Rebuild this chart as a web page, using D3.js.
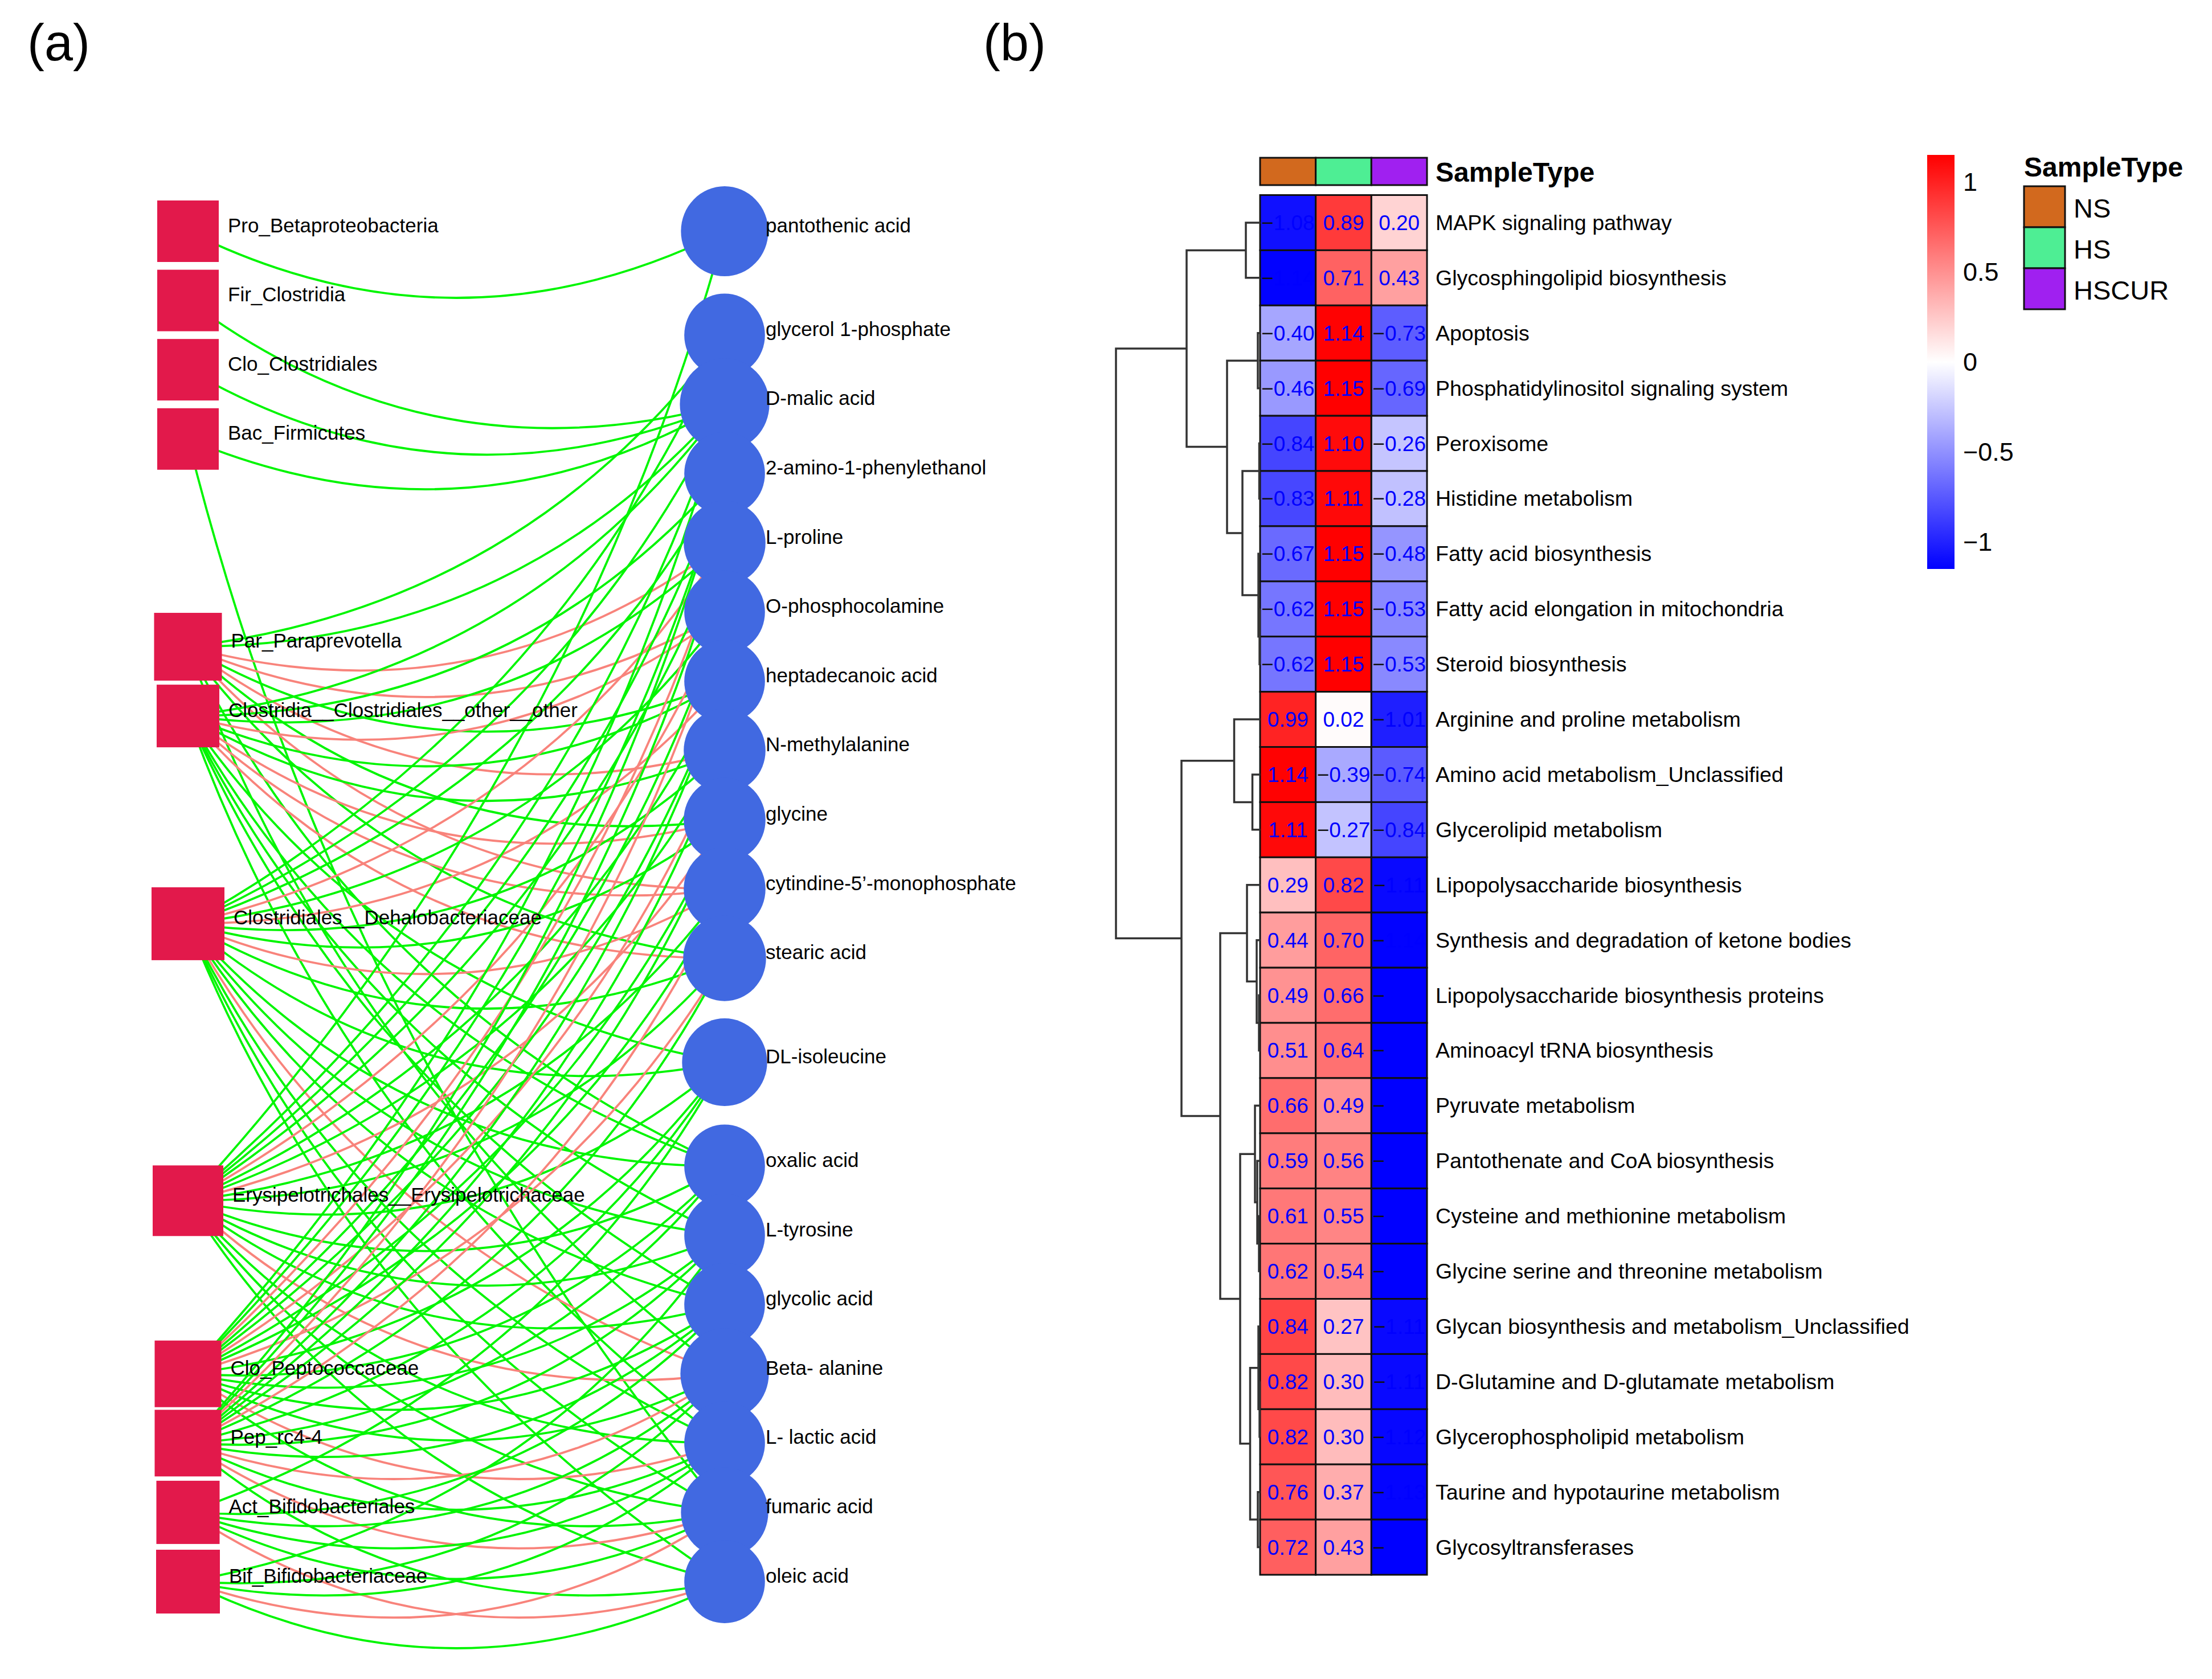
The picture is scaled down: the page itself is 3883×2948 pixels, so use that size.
<!DOCTYPE html>
<html><head><meta charset="utf-8">
<script src="https://cdn.jsdelivr.net/npm/d3@7"></script>
<style>body{margin:0;background:#fff}svg{display:block}</style>
</head><body>
<script>
// ---------------- DATA ----------------
// Panel (a) network
const leftNodes = ["Pro_Betaproteobacteria","Fir_Clostridia","Clo_Clostridiales","Bac_Firmicutes",
  "Par_Paraprevotella","Clostridia__Clostridiales__other__other","Clostridiales__Dehalobacteriaceae",
  "Erysipelotrichales__Erysipelotrichaceae","Clo_Peptococcaceae","Pep_rc4-4","Act_Bifidobacteriales","Bif_Bifidobacteriaceae"];
const leftSlots = [0,1,2,3,6,7,10,14,16.5,17.5,18.5,19.5];
const leftSizes = [108,108,108,108,119,110,128,124,117,117,111,112];
const rightNodes = ["pantothenic acid","glycerol 1-phosphate","D-malic acid","2-amino-1-phenylethanol","L-proline",
  "O-phosphocolamine","heptadecanoic acid","N-methylalanine","glycine","cytindine-5’-monophosphate","stearic acid",
  "DL-isoleucine","oxalic acid","L-tyrosine","glycolic acid","Beta- alanine","L- lactic acid","fumaric acid","oleic acid"];
const rightSlots = [0,1.5,2.5,3.5,4.5,5.5,6.5,7.5,8.5,9.5,10.5,12,13.5,14.5,15.5,16.5,17.5,18.5,19.5];
const rightSizes = [158,146,162,146,148,146,146,148,148,148,150,154,146,146,146,160,146,158,146];
// edges: [left index, right index, sign]
const edges = [
  [0,0,1],[1,2,1],[2,2,1],[3,2,1],[3,17,1],
  [4,1,1],[4,2,1],[4,4,-1],[4,5,-1],[4,6,1],[4,7,-1],[4,8,1],[4,9,-1],[4,10,1],[4,12,1],[4,15,1],
  [5,2,1],[5,3,1],[5,4,1],[5,5,-1],[5,6,1],[5,7,1],[5,8,-1],[5,9,-1],[5,10,-1],[5,11,1],[5,12,1],[5,13,1],[5,14,1],[5,16,1],
  [6,1,1],[6,2,1],[6,3,1],[6,4,-1],[6,5,1],[6,6,-1],[6,7,1],[6,8,1],[6,9,-1],[6,10,1],[6,11,1],[6,12,1],[6,13,1],[6,14,1],[6,15,-1],[6,16,1],[6,17,1],[6,18,1],
  [7,0,1],[7,2,1],[7,3,1],[7,4,1],[7,5,-1],[7,6,1],[7,7,1],[7,8,-1],[7,9,1],[7,10,1],[7,11,1],[7,12,1],[7,13,1],[7,14,1],[7,15,-1],[7,16,1],[7,17,1],[7,18,1],
  [8,2,1],[8,3,1],[8,4,-1],[8,5,1],[8,6,1],[8,7,-1],[8,8,1],[8,9,1],[8,10,-1],[8,11,1],[8,12,1],[8,13,1],[8,14,1],[8,15,1],[8,16,-1],[8,17,1],
  [9,3,1],[9,4,1],[9,5,-1],[9,6,1],[9,7,1],[9,8,1],[9,9,-1],[9,10,1],[9,11,1],[9,12,1],[9,13,1],[9,14,1],[9,15,-1],[9,16,1],[9,17,-1],[9,18,1],
  [10,11,1],[10,14,1],[10,15,1],[10,16,1],[10,17,1],[10,18,-1],
  [11,13,1],[11,15,1],[11,16,1],[11,17,-1],[11,18,1]
];

// Panel (b) heatmap
const rowLabels = ["MAPK signaling pathway","Glycosphingolipid biosynthesis","Apoptosis","Phosphatidylinositol signaling system",
  "Peroxisome","Histidine metabolism","Fatty acid biosynthesis","Fatty acid elongation in mitochondria","Steroid biosynthesis",
  "Arginine and proline metabolism","Amino acid metabolism_Unclassified","Glycerolipid metabolism","Lipopolysaccharide biosynthesis",
  "Synthesis and degradation of ketone bodies","Lipopolysaccharide biosynthesis proteins","Aminoacyl tRNA biosynthesis",
  "Pyruvate metabolism","Pantothenate and CoA biosynthesis","Cysteine and methionine metabolism","Glycine serine and threonine metabolism",
  "Glycan biosynthesis and metabolism_Unclassified","D-Glutamine and D-glutamate metabolism","Glycerophospholipid metabolism",
  "Taurine and hypotaurine metabolism","Glycosyltransferases"];
const sampleTypes = ["NS","HS","HSCUR"];
const sampleColors = ["#D2691E","#4EEE94","#A020F0"];
const valNS    = [-1.08,-1.14,-0.40,-0.46,-0.84,-0.83,-0.67,-0.62,-0.62,0.99,1.14,1.11,0.29,0.44,0.49,0.51,0.66,0.59,0.61,0.62,0.84,0.82,0.82,0.76,0.72];
const valHS    = [0.89,0.71,1.14,1.15,1.10,1.11,1.15,1.15,1.15,0.02,-0.39,-0.27,0.82,0.70,0.66,0.64,0.49,0.56,0.55,0.54,0.27,0.30,0.30,0.37,0.43];
const valHSCUR = [0.20,0.43,-0.73,-0.69,-0.26,-0.28,-0.48,-0.53,-0.53,-1.01,-0.74,-0.84,-1.11,-1.14,-1.15,-1.15,-1.15,-1.15,-1.15,-1.15,-1.11,-1.11,-1.12,-1.13,-1.15];
const colorbarTicks = [1, 0.5, 0, -0.5, -1];
// row dendrogram merges (hclust style): negative = leaf (1-based row), positive = earlier merge; [a, b, height]
const merges = [
  [-5,-6,0.015],[-8,-9,0.01],[-7,2,0.03],[-3,-4,0.04],[1,3,0.31],[4,5,0.58],[-1,-2,0.25],[7,6,1.29],
  [-11,-12,0.135],[-10,9,0.455],[-15,-16,0.02],[-14,11,0.06],[-13,12,0.23],[-19,-20,0.02],[-18,14,0.05],
  [-17,15,0.09],[-22,-23,0.01],[-21,17,0.03],[-24,-25,0.04],[18,19,0.175],[16,20,0.35],[13,21,0.70],[10,22,1.38],[8,23,2.53]
];

// ---------------- DRAW ----------------
const W = 3883, H = 2948;
const FONT = "'Liberation Sans', Arial, Helvetica, sans-serif";
const svg = d3.select("body").append("svg").attr("width", W).attr("height", H)
  .attr("font-family", FONT);
svg.append("rect").attr("width", W).attr("height", H).attr("fill", "#fff");

svg.append("text").attr("x", 48).attr("y", 106).attr("font-size", 90).text("(a)");
svg.append("text").attr("x", 1726).attr("y", 106).attr("font-size", 90).text("(b)");

// ---- network ----
const slotY = d3.scaleLinear().domain([0, 19.5]).range([406, 2777]);
const leftX = 330, rightX = 1272;
const gNet = svg.append("g");
const BEND = 234;
function edgePath(e) {
  const x1 = leftX, y1 = slotY(leftSlots[e[0]]);
  const x2 = rightX, y2 = slotY(rightSlots[e[1]]);
  const dx = x2 - x1, dy = y2 - y1, L = Math.hypot(dx, dy);
  const nx = -dy / L, ny = dx / L;
  const cx = (x1 + x2) / 2 + BEND * nx, cy = (y1 + y2) / 2 + BEND * ny;
  const p = d3.path();
  p.moveTo(x1, y1); p.quadraticCurveTo(cx, cy, x2, y2);
  return p.toString();
}
gNet.append("g").selectAll("path").data(edges).join("path")
  .attr("d", edgePath).attr("fill", "none")
  .attr("stroke", d => d[2] > 0 ? "#00F500" : "#F8837B")
  .attr("stroke-width", 3.8);

gNet.append("g").selectAll("rect").data(leftNodes).join("rect")
  .attr("x", (d, i) => leftX - leftSizes[i] / 2)
  .attr("y", (d, i) => slotY(leftSlots[i]) - leftSizes[i] / 2)
  .attr("width", (d, i) => leftSizes[i]).attr("height", (d, i) => leftSizes[i])
  .attr("fill", "#E2194B");
gNet.append("g").selectAll("ellipse").data(rightNodes).join("ellipse")
  .attr("cx", rightX).attr("cy", (d, i) => slotY(rightSlots[i]))
  .attr("rx", (d, i) => rightSizes[i] / 2 * 0.97).attr("ry", (d, i) => rightSizes[i] / 2)
  .attr("fill", "#4169E1");

gNet.append("g").selectAll("text").data(leftNodes).join("text")
  .attr("x", (d, i) => leftX + leftSizes[i] / 2 + 16)
  .attr("y", (d, i) => slotY(leftSlots[i]) - 11)
  .attr("dominant-baseline", "central").attr("font-size", 35).text(d => d);
gNet.append("g").selectAll("text").data(rightNodes).join("text")
  .attr("x", rightX + 72)
  .attr("y", (d, i) => slotY(rightSlots[i]) - 11)
  .attr("dominant-baseline", "central").attr("font-size", 35).text(d => d);

// ---- heatmap ----
const values = rowLabels.map((r, i) => [valNS[i], valHS[i], valHSCUR[i]]);
const flat = values.flat();
const ext = d3.extent(flat);
const color = d3.scaleLinear().domain([ext[0], (ext[0] + ext[1]) / 2, ext[1]])
  .range(["#0000FF", "#FFFFFF", "#FF0000"]).interpolate(d3.interpolateRgb).clamp(true);

const xCol = d3.scaleBand().domain(sampleTypes).range([2212, 2505]);
const yRow = d3.scaleBand().domain(d3.range(rowLabels.length)).range([342.5, 2765]);

const gH = svg.append("g");
// annotation bar
gH.append("g").selectAll("rect").data(sampleTypes).join("rect")
  .attr("x", d => xCol(d)).attr("y", 277).attr("width", xCol.bandwidth()).attr("height", 48)
  .attr("fill", (d, i) => sampleColors[i]).attr("stroke", "#111").attr("stroke-width", 3);
gH.append("text").attr("x", 2520).attr("y", 302).attr("dominant-baseline", "central")
  .attr("font-size", 48).attr("font-weight", "bold").text("SampleType");

const cells = [];
values.forEach((row, i) => row.forEach((v, j) => cells.push({i, j, v})));
gH.append("g").selectAll("rect").data(cells).join("rect")
  .attr("x", d => xCol(sampleTypes[d.j])).attr("y", d => yRow(d.i))
  .attr("width", xCol.bandwidth()).attr("height", yRow.bandwidth())
  .attr("fill", d => color(d.v)).attr("stroke", "#111").attr("stroke-width", 3);
const txt = gH.append("g").selectAll("text").data(cells).join("text")
  .attr("x", d => xCol(sampleTypes[d.j]) + xCol.bandwidth() / 2)
  .attr("y", d => yRow(d.i) + yRow.bandwidth() / 2)
  .attr("text-anchor", "middle").attr("dominant-baseline", "central")
  .attr("font-size", 37).attr("fill", "#0000FF");
txt.each(function(d) {
  const t = d3.select(this);
  if (d.v < 0) t.append("tspan").attr("fill", "#111").text("\u2212");
  t.append("tspan").text(Math.abs(d.v).toFixed(2));
});

gH.append("g").selectAll("text").data(rowLabels).join("text")
  .attr("x", 2520).attr("y", (d, i) => yRow(i) + yRow.bandwidth() / 2)
  .attr("dominant-baseline", "central").attr("font-size", 37.5).text(d => d);

// dendrogram
const xD = d3.scaleLinear().domain([0, 2.53]).range([2212, 1959]);
const nodeInfo = [];
function info(k) {
  if (k < 0) return {y: yRow(-k - 1) + yRow.bandwidth() / 2, h: 0};
  return nodeInfo[k - 1];
}
const dPath = d3.path();
merges.forEach(m => {
  const a = info(m[0]), b = info(m[1]);
  const xm = xD(m[2]);
  dPath.moveTo(xD(a.h), a.y); dPath.lineTo(xm, a.y); dPath.lineTo(xm, b.y); dPath.lineTo(xD(b.h), b.y);
  nodeInfo.push({y: (a.y + b.y) / 2, h: m[2]});
});
gH.append("path").attr("d", dPath.toString()).attr("fill", "none")
  .attr("stroke", "#333").attr("stroke-width", 3.5);

// color bar
const cbTop = 272, cbBot = 999, cbX = 3383, cbW = 48;
const yCb = d3.scaleLinear().domain(ext).range([cbBot, cbTop]);
const grad = svg.append("defs").append("linearGradient").attr("id", "cbg")
  .attr("x1", 0).attr("y1", 1).attr("x2", 0).attr("y2", 0);
d3.range(0, 1.0001, 0.05).forEach(t => {
  grad.append("stop").attr("offset", t).attr("stop-color", color(ext[0] + t * (ext[1] - ext[0])));
});
svg.append("rect").attr("x", cbX).attr("y", cbTop).attr("width", cbW).attr("height", cbBot - cbTop)
  .attr("fill", "url(#cbg)");
svg.append("g").selectAll("text").data(colorbarTicks).join("text")
  .attr("x", 3446).attr("y", d => yCb(d)).attr("dominant-baseline", "central")
  .attr("font-size", 45).text(d => d < 0 ? "\u2212" + Math.abs(d) : String(d));

// legend
svg.append("text").attr("x", 3553).attr("y", 293).attr("dominant-baseline", "central")
  .attr("font-size", 48).attr("font-weight", "bold").text("SampleType");
const lg = svg.append("g");
lg.selectAll("rect").data(sampleTypes).join("rect")
  .attr("x", 3553).attr("y", (d, i) => 327 + i * 72).attr("width", 72).attr("height", 72)
  .attr("fill", (d, i) => sampleColors[i]).attr("stroke", "#111").attr("stroke-width", 3);
lg.selectAll("text").data(sampleTypes).join("text")
  .attr("x", 3640).attr("y", (d, i) => 327 + i * 72 + 38).attr("dominant-baseline", "central")
  .attr("font-size", 47).text(d => d);
</script>
</body></html>
